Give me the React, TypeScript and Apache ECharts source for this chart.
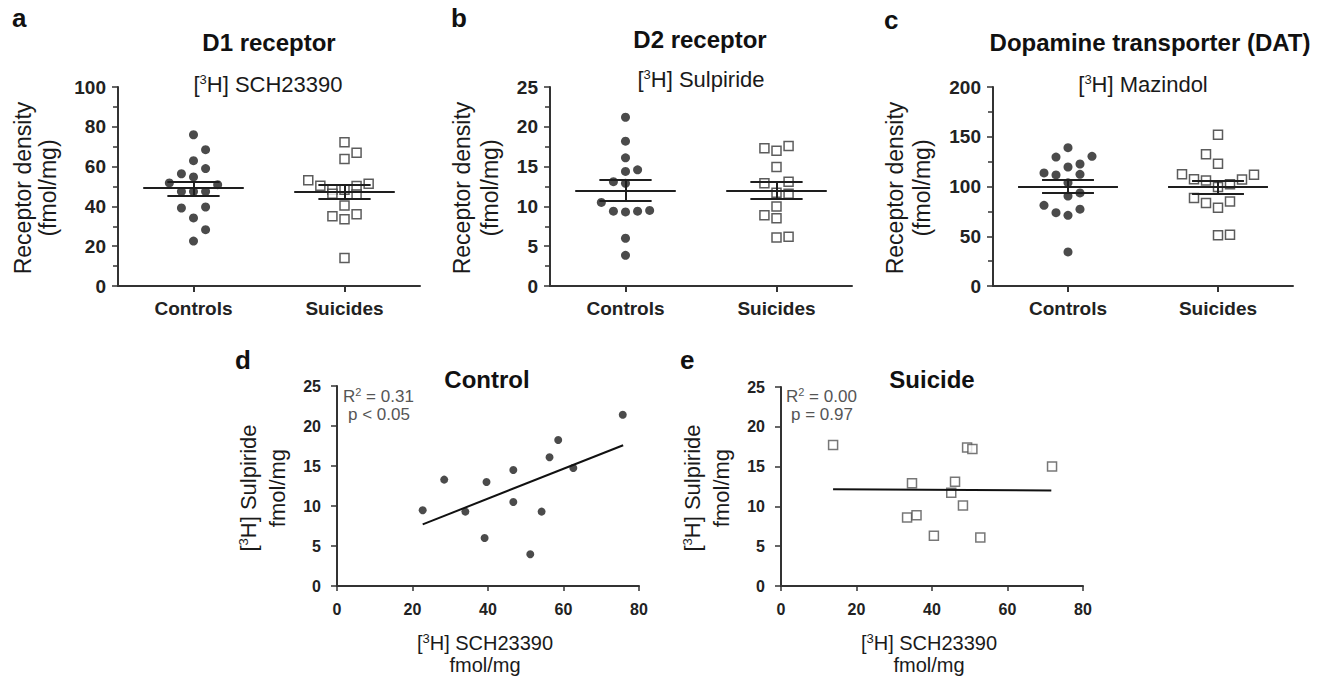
import React, { useEffect, useRef } from 'react';
import * as echarts from 'echarts';

const FONT = '"Liberation Sans", Arial, Helvetica, sans-serif';

const categories = ['Controls', 'Suicides'];

// [jitter column, value]
const d1Controls: [number, number][] = [
  [0, 76.0], [1, 68.5], [0, 63.0], [1, 59.0], [-1, 56.4], [0, 54.8], [-2, 51.8], [2, 50.9],
  [-1, 47.5], [0, 47.5], [1, 47.5], [-1, 39.2], [1, 39.7], [0, 34.2], [1, 28.3], [0, 22.6],
];
const d1Suicides: [number, number][] = [
  [0, 72.2], [1, 67.0], [0, 63.8], [-3, 53.1], [-2, 50.4], [2, 51.4], [1, 50.2], [-1, 48.4],
  [0, 48.4], [-1, 46.4], [1, 46.0], [0, 40.5], [-1, 35.0], [0, 33.5], [1, 36.0], [0, 14.1],
];
// [mean, lower SEM, upper SEM]
const d1ControlStats = [49.2, 45.6, 52.3];
const d1SuicideStats = [47.2, 43.6, 50.8];

const d2Controls: [number, number][] = [
  [0, 21.2], [0, 18.2], [0, 16.1], [0, 14.4], [1, 14.6], [-1, 13.1], [0, 12.9], [-2, 10.5],
  [-1, 9.4], [0, 9.3], [1, 9.4], [2, 9.5], [0, 6.0], [0, 3.85],
];
const d2Suicides: [number, number][] = [
  [-1, 17.3], [0, 17.0], [1, 17.6], [0, 14.95], [-1, 12.9], [1, 13.1], [0, 11.7], [1, 11.6],
  [0, 10.0], [-1, 8.9], [0, 8.5], [0, 6.1], [1, 6.2],
];
const d2ControlStats = [12.0, 10.7, 13.3];
const d2SuicideStats = [12.0, 10.9, 13.1];

const datControls: [number, number][] = [
  [0, 139.0], [-1, 129.6], [2, 130.3], [0, 119.6], [1, 122.6], [-2, 113.6], [-1, 111.6], [1, 112.2],
  [0, 103.7], [1, 93.5], [0, 90.4], [-2, 81.1], [-1, 73.7], [1, 77.2], [0, 71.0], [0, 34.2],
];
const datSuicides: [number, number][] = [
  [0, 152.1], [-1, 132.3], [0, 122.9], [-3, 112.2], [-2, 107.2], [-1, 106.0], [2, 107.0], [3, 111.7],
  [0, 99.4], [1, 102.3], [-2, 88.4], [-1, 83.4], [1, 85.0], [0, 78.6], [0, 50.9], [1, 51.6],
];
const datControlStats = [100.2, 93.5, 107.2];
const datSuicideStats = [99.5, 92.8, 105.9];

// correlation panels: [SCH23390, Sulpiride]
const controlCorr: [number, number][] = [
  [22.7, 9.46], [28.4, 13.3], [34.0, 9.3], [39.1, 6.0], [39.6, 13.0], [46.7, 14.5], [46.7, 10.5],
  [51.2, 3.96], [54.2, 9.3], [56.3, 16.1], [58.6, 18.25], [62.6, 14.75], [75.7, 21.4],
];
const controlFit: [number, number][] = [[22.7, 7.7], [75.8, 17.6]];
const suicideCorr: [number, number][] = [
  [13.8, 17.7], [34.7, 12.9], [33.4, 8.6], [35.9, 8.9], [40.5, 6.3], [45.1, 11.7], [46.1, 13.1],
  [48.2, 10.1], [49.3, 17.4], [50.7, 17.2], [52.8, 6.1], [71.8, 15.0],
];
const suicideFit: [number, number][] = [[13.8, 12.17], [71.6, 12.0]];

const JIT = 0.08;
const MEAN_HALF = 0.333;
const SEM_HALF = 0.173;
const INK = '#1e1e1e';
const AX = '#333';

function groupSeries(points: [number, number][], pos: number, stats: number[], xi: number, yi: number, filled: boolean) {
  const [m, lo, hi] = stats;
  return {
    type: 'scatter',
    xAxisIndex: xi,
    yAxisIndex: yi,
    symbol: filled ? 'circle' : 'rect',
    symbolSize: 9,
    itemStyle: filled
      ? { color: INK }
      : { color: '#fff', borderColor: '#333', borderWidth: 1.5 },
    data: points.map(([s, v]) => [pos + s * JIT, v]),
    silent: true,
    markLine: {
      silent: true,
      symbol: ['none', 'none'],
      label: { show: false },
      lineStyle: { color: INK, width: 2, type: 'solid' },
      emphasis: { disabled: true },
      data: [
        [{ coord: [pos - MEAN_HALF, m] }, { coord: [pos + MEAN_HALF, m] }],
        [{ coord: [pos - SEM_HALF, hi] }, { coord: [pos + SEM_HALF, hi] }],
        [{ coord: [pos - SEM_HALF, lo] }, { coord: [pos + SEM_HALF, lo] }],
        [{ coord: [pos, lo] }, { coord: [pos, hi] }],
      ],
    },
  };
}

function catAxes(gi: number) {
  return [
    {
      gridIndex: gi,
      type: 'category',
      data: categories,
      boundaryGap: true,
      axisLine: { show: true, lineStyle: { color: AX, width: 2 } },
      axisTick: { show: true, alignWithLabel: true, length: 6, lineStyle: { color: AX, width: 2 } },
      axisLabel: { fontFamily: FONT, fontWeight: 'bold', fontSize: 19, color: '#222', margin: 13 },
      splitLine: { show: false },
    },
    { gridIndex: gi, type: 'value', min: 0.5, max: 2.5, show: false },
  ];
}

function yAxisA(gi: number, max: number, interval: number) {
  return {
    gridIndex: gi,
    type: 'value',
    min: 0,
    max,
    interval,
    axisLine: { show: true, lineStyle: { color: AX, width: 2 } },
    axisTick: { show: true, length: 6, lineStyle: { color: AX, width: 1.5 } },
    minorTick: { show: true, splitNumber: 2, length: 5, lineStyle: { color: AX, width: 1.5 } },
    axisLabel: { fontFamily: FONT, fontWeight: 'bold', fontSize: 19, color: '#222', margin: 12 },
    splitLine: { show: false },
    minorSplitLine: { show: false },
  };
}

function corrAxes(gi: number) {
  return {
    x: {
      gridIndex: gi,
      type: 'value',
      min: 0,
      max: 80,
      interval: 20,
      axisLine: { show: true, onZero: false, lineStyle: { color: AX, width: 2 } },
      axisTick: { show: true, length: 5, lineStyle: { color: AX, width: 1.5 } },
      axisLabel: { fontFamily: FONT, fontWeight: 'bold', fontSize: 16, color: '#222', margin: 15 },
      splitLine: { show: false },
    },
    y: {
      gridIndex: gi,
      type: 'value',
      min: 0,
      max: 25,
      interval: 5,
      axisLine: { show: true, onZero: false, lineStyle: { color: AX, width: 2 } },
      axisTick: { show: true, length: 6, lineStyle: { color: AX, width: 1.5 } },
      axisLabel: { fontFamily: FONT, fontWeight: 'bold', fontSize: 16, color: '#222', margin: 16 },
      splitLine: { show: false },
    },
  };
}

function txt(x: number, y: number, text: string, opts: any = {}, rot = 0) {
  const { fontSize = 18, fontWeight = 'normal', color = '#1a1a1a', align = 'center', supSize = 13 } = opts;
  return {
    type: 'text',
    x,
    y,
    rotation: rot,
    silent: true,
    style: {
      text,
      x: 0,
      y: 0,
      fontFamily: FONT,
      fontSize,
      fontWeight,
      fill: color,
      align,
      verticalAlign: 'middle',
      rich: {
        s: {
          fontFamily: FONT,
          fontSize: supSize,
          fontWeight,
          fill: color,
          verticalAlign: 'top',
          padding: [0, 0, Math.round(fontSize * 0.45), 0],
        },
      },
    },
  };
}

export default function App() {
  const ref = useRef<HTMLDivElement>(null);
  useEffect(() => {
    document.body.style.margin = '0';
    if (!ref.current) return;
    const chart = echarts.init(ref.current, undefined, { renderer: 'svg' });
    const ca = corrAxes(3);
    const ce = corrAxes(4);
    const option: any = {
      animation: false,
      backgroundColor: '#ffffff',
      grid: [
        { left: 118, top: 87, width: 302, height: 199, containLabel: false },
        { left: 550, top: 87, width: 302, height: 199, containLabel: false },
        { left: 993, top: 87, width: 300, height: 199, containLabel: false },
        { left: 337, top: 386, width: 302, height: 200, containLabel: false },
        { left: 781, top: 387, width: 302, height: 199, containLabel: false },
      ],
      xAxis: [...catAxes(0), ...catAxes(1), ...catAxes(2), ca.x, ce.x],
      yAxis: [yAxisA(0, 100, 20), yAxisA(1, 25, 5), yAxisA(2, 200, 50), ca.y, ce.y],
      series: [
        groupSeries(d1Controls, 1, d1ControlStats, 1, 0, true),
        groupSeries(d1Suicides, 2, d1SuicideStats, 1, 0, false),
        groupSeries(d2Controls, 1, d2ControlStats, 3, 1, true),
        groupSeries(d2Suicides, 2, d2SuicideStats, 3, 1, false),
        groupSeries(datControls, 1, datControlStats, 5, 2, true),
        groupSeries(datSuicides, 2, datSuicideStats, 5, 2, false),
        {
          type: 'scatter', xAxisIndex: 6, yAxisIndex: 3, symbol: 'circle', symbolSize: 8,
          itemStyle: { color: INK }, data: controlCorr, silent: true,
        },
        {
          type: 'line', xAxisIndex: 6, yAxisIndex: 3, symbol: 'none', data: controlFit, silent: true,
          lineStyle: { color: '#111', width: 2 },
        },
        {
          type: 'scatter', xAxisIndex: 7, yAxisIndex: 4, symbol: 'rect', symbolSize: 9,
          itemStyle: { color: '#fff', borderColor: '#555', borderWidth: 1.5 }, data: suicideCorr, silent: true,
        },
        {
          type: 'line', xAxisIndex: 7, yAxisIndex: 4, symbol: 'none', data: suicideFit, silent: true,
          lineStyle: { color: '#111', width: 2 },
        },
      ],
      graphic: [
        txt(12, 18, 'a', { fontSize: 26, fontWeight: 'bold', align: 'left', color: '#111' }),
        txt(451, 18, 'b', { fontSize: 26, fontWeight: 'bold', align: 'left', color: '#111' }),
        txt(884, 20, 'c', { fontSize: 26, fontWeight: 'bold', align: 'left', color: '#111' }),
        txt(235, 360, 'd', { fontSize: 26, fontWeight: 'bold', align: 'left', color: '#111' }),
        txt(680, 360, 'e', { fontSize: 26, fontWeight: 'bold', align: 'left', color: '#111' }),

        txt(269, 42, 'D1 receptor', { fontSize: 24, fontWeight: 'bold', color: '#111' }),
        txt(268, 84, '[{s|3}H] SCH23390', { fontSize: 22 }),
        txt(700, 39, 'D2 receptor', { fontSize: 24, fontWeight: 'bold', color: '#111' }),
        txt(701, 79, '[{s|3}H] Sulpiride', { fontSize: 22 }),
        txt(1150, 42, 'Dopamine transporter (DAT)', { fontSize: 24, fontWeight: 'bold', color: '#111' }),
        txt(1143, 84, '[{s|3}H] Mazindol', { fontSize: 22 }),

        txt(23, 188, 'Receptor density', { fontSize: 23 }, Math.PI / 2),
        txt(48, 188, '(fmol/mg)', { fontSize: 23 }, Math.PI / 2),
        txt(462, 188, 'Receptor density', { fontSize: 23 }, Math.PI / 2),
        txt(490, 188, '(fmol/mg)', { fontSize: 23 }, Math.PI / 2),
        txt(895, 188, 'Receptor density', { fontSize: 23 }, Math.PI / 2),
        txt(922, 188, '(fmol/mg)', { fontSize: 23 }, Math.PI / 2),

        txt(487, 379, 'Control', { fontSize: 24, fontWeight: 'bold', color: '#111' }),
        txt(932, 379, 'Suicide', { fontSize: 24, fontWeight: 'bold', color: '#111' }),
        txt(343, 396, 'R{s|2} = 0.31', { fontSize: 17, color: '#555', align: 'left', supSize: 11 }),
        txt(348, 414, 'p < 0.05', { fontSize: 17, color: '#555', align: 'left' }),
        txt(786, 396, 'R{s|2} = 0.00', { fontSize: 17, color: '#555', align: 'left', supSize: 11 }),
        txt(791, 414, 'p = 0.97', { fontSize: 17, color: '#555', align: 'left' }),

        txt(248, 488, '[{s|3}H] Sulpiride', { fontSize: 22 }, Math.PI / 2),
        txt(277, 488, 'fmol/mg', { fontSize: 22 }, Math.PI / 2),
        txt(692, 488, '[{s|3}H] Sulpiride', { fontSize: 22 }, Math.PI / 2),
        txt(721, 488, 'fmol/mg', { fontSize: 22 }, Math.PI / 2),
        txt(485, 643, '[{s|3}H] SCH23390', { fontSize: 20 }),
        txt(485, 665, 'fmol/mg', { fontSize: 20 }),
        txt(929, 643, '[{s|3}H] SCH23390', { fontSize: 20 }),
        txt(929, 665, 'fmol/mg', { fontSize: 20 }),
      ],
    };
    chart.setOption(option);
    return () => chart.dispose();
  }, []);
  return <div ref={ref} style={{ width: 1319, height: 676 }} />;
}
